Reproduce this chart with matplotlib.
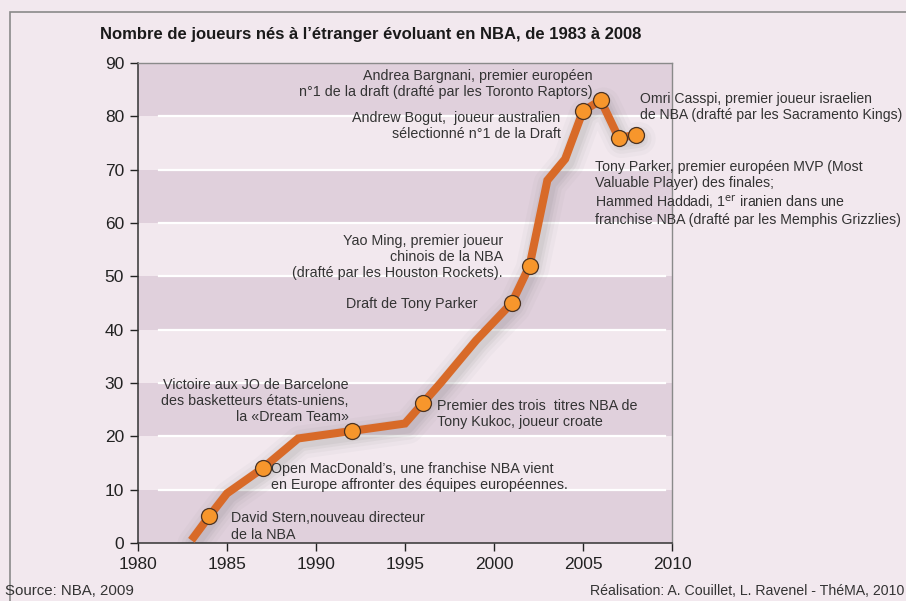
import matplotlib.pyplot as plt
import numpy as np

plt.rcParams['font.family'] = ['Liberation Sans', 'DejaVu Sans']

# nombre de joueurs nés à l'étranger
years = [1983, 1984, 1985, 1987, 1989, 1992, 1995, 1996, 1997, 1998, 1999, 2000,
         2001, 2002, 2003, 2004, 2005, 2006, 2007, 2008]
players = [0.5, 5, 9.3, 14, 19.6, 21, 22.4, 26.2, 30, 34, 38, 41.5,
           45, 52, 68, 72, 81, 83, 76, 76.5]
marker_years = [1984, 1987, 1992, 1996, 2001, 2002, 2005, 2006, 2007, 2008]

title = "Nombre de joueurs nés à l’étranger évoluant en NBA, de 1983 à 2008"
source = "Source: NBA, 2009"
credits = "Réalisation: A. Couillet, L. Ravenel - ThéMA, 2010"

# (texte, x, y, alignement, taille)
notes = [
    ("Andrea Bargnani, premier européen\nn°1 de la draft (drafté par les Toronto Raptors)", 2005.55, 86.1, 'right', 10.3),
    ("Andrew Bogut,  joueur australien\nsélectionné n°1 de la Draft", 2003.75, 78.2, 'right', 10.3),
    ("Omri Casspi, premier joueur israelien\nde NBA (drafté par les Sacramento Kings)", 2008.2, 81.8, 'left', 10.1),
    ("Tony Parker, premier européen MVP (Most\nValuable Player) des finales;\n"
     "Hammed Haddadi, 1$^{\\rm er}$ iranien dans une\nfranchise NBA (drafté par les Memphis Grizzlies)", 2005.7, 65.5, 'left', 10.2),
    ("Yao Ming, premier joueur\nchinois de la NBA\n(drafté par les Houston Rockets).", 2000.5, 53.6, 'right', 10.3),
    ("Draft de Tony Parker", 1999.1, 44.8, 'right', 10.3),
    ("Victoire aux JO de Barcelone\ndes basketteurs états-uniens,\nla «Dream Team»", 1991.85, 26.6, 'right', 10.3),
    ("Premier des trois  titres NBA de\nTony Kukoc, joueur croate", 1996.8, 24.2, 'left', 10.3),
    ("Open MacDonald’s, une franchise NBA vient\nen Europe affronter des équipes européennes.", 1987.5, 12.4, 'left', 10.3),
    ("David Stern,nouveau directeur\nde la NBA", 1985.2, 3.1, 'left', 10.3),
]

bg = '#f2e8ee'
band = '#e0d0dc'
line_col = '#d86a28'
mk_col = '#f7962c'
txt_col = '#333333'

fig = plt.figure(figsize=(9.06, 6.01), dpi=100, facecolor=bg)
ax = fig.add_axes([0.1523, 0.0965, 0.5894, 0.7987])
ax.set_facecolor(bg)

# cadre gris autour de la figure
fig.patches.append(plt.Rectangle((0.0105, -0.01), 1.0, 0.99, transform=fig.transFigure,
                                 fill=False, edgecolor='#8a8a8a', linewidth=1.2))

for lo in range(0, 90, 20):
    ax.axhspan(lo, lo + 10, color=band, zorder=0, linewidth=0)
for y in range(10, 90, 10):
    ax.plot([1981.2, 2009.6], [y, y], color='white', lw=1.6, zorder=1)

# ombre floue sous la courbe
for w, a in [(24, 0.04), (18, 0.05), (13, 0.07), (9, 0.08)]:
    ax.plot(np.array(years) + 0.15, np.array(players) - 0.7, color='#707070',
            lw=w, alpha=a, solid_capstyle='round', solid_joinstyle='round', zorder=2)

ax.plot(years, players, color=line_col, lw=5.8, solid_capstyle='butt',
        solid_joinstyle='miter', zorder=3)
my = [players[years.index(y)] for y in marker_years]
ax.plot(marker_years, my, 'o', color=mk_col, markersize=11.5,
        markeredgecolor='#4a3222', markeredgewidth=0.9, zorder=4)

for txt, x, y, ha, fs in notes:
    ax.text(x, y, txt, ha=ha, va='center', multialignment=ha, fontsize=fs,
            color=txt_col, linespacing=1.2, zorder=5, clip_on=False)

ax.set_xlim(1980, 2010)
ax.set_ylim(0, 90)
ax.set_xticks(range(1980, 2011, 5))
ax.set_yticks(range(0, 91, 10))
ax.tick_params(labelsize=12.5, colors='#222222', length=6, width=1, pad=4)
for s in ['left', 'bottom']:
    ax.spines[s].set_color('#333333')
    ax.spines[s].set_linewidth(1.1)
for s in ['top', 'right']:
    ax.spines[s].set_color('#8a8a8a')
    ax.spines[s].set_linewidth(1)

fig.text(100 / 906, 1 - 35 / 601, title, fontsize=12, fontweight='bold',
         ha='left', va='center', color='#1a1a1a')
fig.text(5 / 906, 1 - 591 / 601, source, fontsize=10.8, ha='left', va='center', color=txt_col)
fig.text(904 / 906, 1 - 591 / 601, credits, fontsize=10.2, ha='right', va='center', color=txt_col)

fig.savefig('out.png', dpi=100, facecolor=bg)
